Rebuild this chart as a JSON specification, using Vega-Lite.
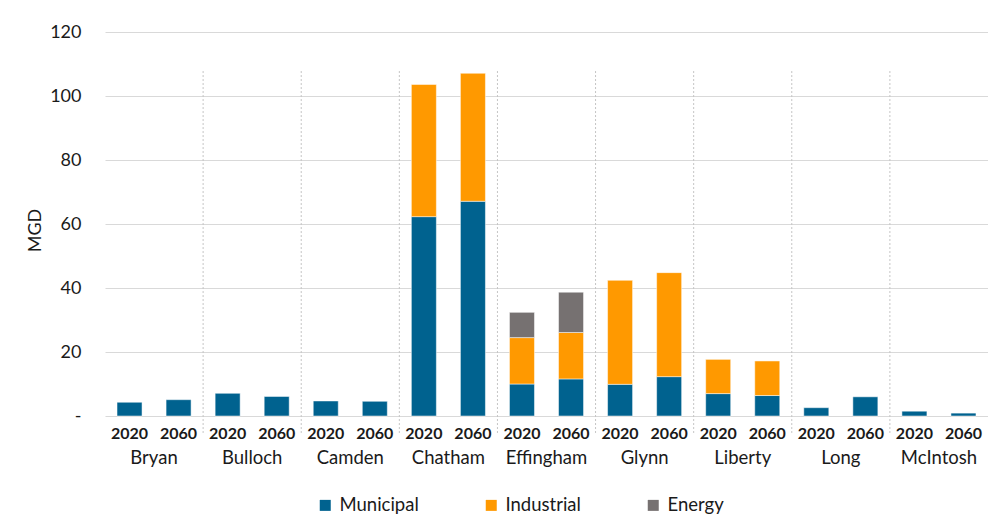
{
  "$schema": "https://vega.github.io/schema/vega-lite/v6.json",
  "width": 883,
  "height": 384,
  "autosize": {"type": "none"},
  "padding": {"left": 105, "top": 32, "right": 0, "bottom": 107},
  "background": "white",
  "config": {
    "font": "Lato",
    "view": {"stroke": null}
  },
  "datasets": {
    "usage": [
      {"county": "Bryan", "year": "2020", "use": "Municipal", "rank": 1, "mgd": 4.3},
      {"county": "Bryan", "year": "2060", "use": "Municipal", "rank": 1, "mgd": 5.1},
      {"county": "Bulloch", "year": "2020", "use": "Municipal", "rank": 1, "mgd": 7.1},
      {"county": "Bulloch", "year": "2060", "use": "Municipal", "rank": 1, "mgd": 6.1},
      {"county": "Camden", "year": "2020", "use": "Municipal", "rank": 1, "mgd": 4.7},
      {"county": "Camden", "year": "2060", "use": "Municipal", "rank": 1, "mgd": 4.6},
      {"county": "Chatham", "year": "2020", "use": "Municipal", "rank": 1, "mgd": 62.3},
      {"county": "Chatham", "year": "2020", "use": "Industrial", "rank": 2, "mgd": 41.3},
      {"county": "Chatham", "year": "2060", "use": "Municipal", "rank": 1, "mgd": 67.1},
      {"county": "Chatham", "year": "2060", "use": "Industrial", "rank": 2, "mgd": 40.0},
      {"county": "Effingham", "year": "2020", "use": "Municipal", "rank": 1, "mgd": 10.0},
      {"county": "Effingham", "year": "2020", "use": "Industrial", "rank": 2, "mgd": 14.5},
      {"county": "Effingham", "year": "2020", "use": "Energy", "rank": 3, "mgd": 7.9},
      {"county": "Effingham", "year": "2060", "use": "Municipal", "rank": 1, "mgd": 11.6},
      {"county": "Effingham", "year": "2060", "use": "Industrial", "rank": 2, "mgd": 14.5},
      {"county": "Effingham", "year": "2060", "use": "Energy", "rank": 3, "mgd": 12.6},
      {"county": "Glynn", "year": "2020", "use": "Municipal", "rank": 1, "mgd": 9.9},
      {"county": "Glynn", "year": "2020", "use": "Industrial", "rank": 2, "mgd": 32.5},
      {"county": "Glynn", "year": "2060", "use": "Municipal", "rank": 1, "mgd": 12.3},
      {"county": "Glynn", "year": "2060", "use": "Industrial", "rank": 2, "mgd": 32.5},
      {"county": "Liberty", "year": "2020", "use": "Municipal", "rank": 1, "mgd": 7.0},
      {"county": "Liberty", "year": "2020", "use": "Industrial", "rank": 2, "mgd": 10.7},
      {"county": "Liberty", "year": "2060", "use": "Municipal", "rank": 1, "mgd": 6.4},
      {"county": "Liberty", "year": "2060", "use": "Industrial", "rank": 2, "mgd": 10.8},
      {"county": "Long", "year": "2020", "use": "Municipal", "rank": 1, "mgd": 2.6},
      {"county": "Long", "year": "2060", "use": "Municipal", "rank": 1, "mgd": 6.0},
      {"county": "McIntosh", "year": "2020", "use": "Municipal", "rank": 1, "mgd": 1.5},
      {"county": "McIntosh", "year": "2060", "use": "Municipal", "rank": 1, "mgd": 0.9}
    ],
    "dividers": [
      {"county": "Bulloch"}, {"county": "Camden"}, {"county": "Chatham"}, {"county": "Effingham"},
      {"county": "Glynn"}, {"county": "Liberty"}, {"county": "Long"}, {"county": "McIntosh"}
    ]
  },
  "layer": [
    {
      "data": {"name": "dividers"},
      "mark": {"type": "rule", "color": "#C4C4C4", "strokeDash": [2, 2], "strokeWidth": 1, "clip": false},
      "encoding": {
        "x": {"field": "county", "type": "nominal", "bandPosition": 0},
        "y": {"datum": 107.8, "type": "quantitative"},
        "y2": {"datum": -5.3}
      }
    },
    {
      "data": {"name": "usage"},
      "mark": {"type": "bar", "stroke": "white", "strokeWidth": 0.5},
      "encoding": {
        "x": {
          "field": "county",
          "type": "nominal",
          "sort": null,
          "scale": {
            "domain": ["Bryan", "Bulloch", "Camden", "Chatham", "Effingham", "Glynn", "Liberty", "Long", "McIntosh"],
            "paddingInner": 0,
            "paddingOuter": 0
          },
          "axis": {
            "title": null,
            "domain": false,
            "ticks": false,
            "grid": false,
            "labelAngle": 0,
            "labelAlign": "center",
            "labelBaseline": "top",
            "bandPosition": 0.5,
            "labelPadding": 32,
            "labelFontSize": 18.5,
            "labelColor": "#1a1a1a"
          }
        },
        "xOffset": {
          "field": "year",
          "type": "nominal",
          "scale": {"domain": ["2020", "2060"], "paddingInner": 0.49, "paddingOuter": 0.245}
        },
        "y": {
          "aggregate": "sum",
          "field": "mgd",
          "type": "quantitative",
          "stack": "zero",
          "scale": {"domain": [0, 120], "nice": false},
          "axis": {
            "title": "MGD",
            "values": [0, 20, 40, 60, 80, 100, 120],
            "labelExpr": "datum.value == 0 ? '-' : datum.label",
            "grid": true,
            "gridColor": "#D9D9D9",
            "gridWidth": 1,
            "domain": false,
            "ticks": false,
            "labelPadding": 24,
            "labelFontSize": 18,
            "labelColor": "#1a1a1a",
            "titleFontSize": 18,
            "titleFontWeight": "normal",
            "titleColor": "#1a1a1a",
            "titleAngle": -90,
            "titleBaseline": "middle",
            "titleX": -70,
            "titleY": 198
          }
        },
        "color": {
          "field": "use",
          "type": "nominal",
          "scale": {
            "domain": ["Municipal", "Industrial", "Energy"],
            "range": ["#00628F", "#FF9900", "#767171"]
          },
          "legend": {
            "title": null,
            "orient": "none",
            "direction": "horizontal",
            "legendX": 211,
            "legendY": 464,
            "symbolType": "square",
            "symbolSize": 121,
            "symbolStrokeWidth": 0,
            "labelFontSize": 18.5,
            "labelColor": "#1a1a1a",
            "labelOffset": 5,
            "columnPadding": 63
          }
        },
        "order": {"field": "rank", "type": "quantitative"}
      }
    },
    {
      "data": {"name": "usage"},
      "transform": [{"filter": "datum.use === 'Municipal'"}],
      "mark": {"type": "text", "fontWeight": "bold", "fontSize": 16, "baseline": "middle", "align": "center", "color": "#1a1a1a", "clip": false},
      "encoding": {
        "x": {"field": "county", "type": "nominal"},
        "xOffset": {"field": "year", "type": "nominal"},
        "y": {"datum": -5.6, "type": "quantitative"},
        "text": {"field": "year", "type": "nominal"}
      }
    }
  ]
}
